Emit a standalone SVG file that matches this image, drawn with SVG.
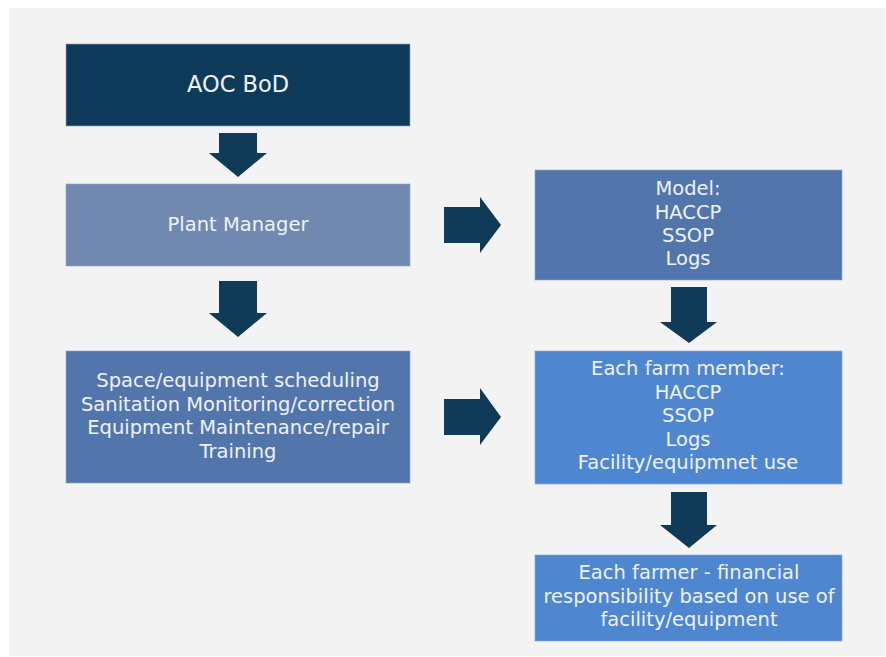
<svg xmlns="http://www.w3.org/2000/svg" width="886" height="657" viewBox="0 0 886 657">
<style>
.box{stroke:#8fa9cf;stroke-width:1;stroke-opacity:0.6}
.t{font-family:"DejaVu Sans","Liberation Sans",Arial,sans-serif;fill:#eef2f8;text-anchor:middle;font-size:19.5px}
.arrow{fill:#0f3a58}
</style>
<rect x="0" y="0" width="886" height="657" fill="#ffffff"/>
<rect x="9" y="8" width="876" height="648" fill="#f3f3f3"/>
<g id="connectors">
<polygon class="arrow" points="219,133 257,133 257,153 267,153 238,177 209,153 219,153"/>
<polygon class="arrow" points="219,281 257,281 257,313 267,313 238,337 209,313 219,313"/>
<polygon class="arrow" points="444,207 480,207 480,197 501,225 480,253 480,243 444,243"/>
<polygon class="arrow" points="444,399 480,399 480,388 501,417 480,445 480,435 444,435"/>
<polygon class="arrow" points="671,287 707,287 707,322 717,322 689,343 660,322 671,322"/>
<polygon class="arrow" points="671,492 707,492 707,525 717,525 689,548 660,525 671,525"/>
</g>
<g id="aoc-bod">
<rect x="66" y="44" width="344" height="82" fill="#0f3b5a" class="box" stroke="#3d6485"/>
<text class="t" x="238" y="92" style="font-size:22.5px">AOC BoD</text>
</g>
<g id="plant-manager">
<rect x="66" y="184" width="344" height="82" fill="#7189ae" class="box"/>
<text class="t" x="238" y="231">Plant Manager</text>
</g>
<g id="tasks">
<rect x="66" y="351" width="344" height="132" fill="#5276ab" class="box"/>
<text class="t" x="238" y="387">Space/equipment scheduling</text>
<text class="t" x="238" y="411">Sanitation Monitoring/correction</text>
<text class="t" x="238" y="434">Equipment Maintenance/repair</text>
<text class="t" x="238" y="458">Training</text>
</g>
<g id="model">
<rect x="535" y="170" width="307" height="110" fill="#5276ab" class="box"/>
<text class="t" x="688" y="195">Model:</text>
<text class="t" x="688" y="219">HACCP</text>
<text class="t" x="688" y="242">SSOP</text>
<text class="t" x="688" y="265">Logs</text>
</g>
<g id="farm-member">
<rect x="535" y="351" width="307" height="133" fill="#4f86d0" class="box"/>
<text class="t" x="688" y="375">Each farm member:</text>
<text class="t" x="688" y="399">HACCP</text>
<text class="t" x="688" y="422">SSOP</text>
<text class="t" x="688" y="446">Logs</text>
<text class="t" x="688" y="469">Facility/equipmnet use</text>
</g>
<g id="farmer">
<rect x="535" y="555" width="307" height="86" fill="#4f86d0" class="box"/>
<text class="t" x="689" y="579">Each farmer - financial</text>
<text class="t" x="689" y="603">responsibility based on use of</text>
<text class="t" x="689" y="626">facility/equipment</text>
</g>
</svg>
